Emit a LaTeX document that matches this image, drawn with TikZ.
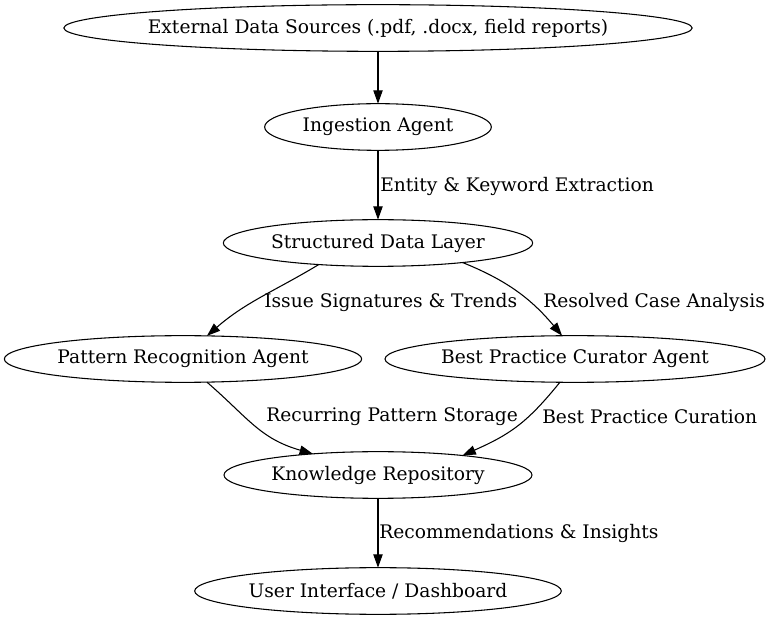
\documentclass[tikz,border=0pt]{standalone}
\usepackage{fontspec}
\setmainfont{DejaVu Serif}
\usetikzlibrary{shapes.geometric, arrows.meta}

\begin{document}
\begin{tikzpicture}[x=0.75pt, y=0.75pt]
    \tikzset{
        agent/.style={
            ellipse,
            draw=black,
            line width=0.8pt,
            inner sep=0pt,
            outer sep=0pt,
            minimum height=35pt,
            font=\fontsize{14}{17}\selectfont
        },
        flow/.style={
            line width=0.8pt,
            -{Triangle[length=10pt, width=7pt]}
        },
        tag/.style={
            anchor=west,
            inner sep=0pt,
            font=\fontsize{14}{17}\selectfont
        }
    }

    \useasboundingbox (0,0) rectangle (772,-620);

    \node[agent, inner xsep=-6pt, minimum width=471pt] (sources) at (378,-28) {External Data Sources (.pdf, .docx, field reports)};
    \node[agent, minimum width=170pt] (ingest) at (378,-127) {Ingestion Agent};
    \node[agent, minimum width=232pt] (structured) at (378,-243) {Structured Data Layer};
    \node[agent, minimum width=268pt] (pattern) at (183,-359) {Pattern Recognition Agent};
    \node[agent, minimum width=285pt] (curator) at (575,-359) {Best Practice Curator Agent};
    \node[agent, minimum width=231pt] (repo) at (378,-475) {Knowledge Repository};
    \node[agent, minimum width=275pt] (dashboard) at (378,-591) {User Interface / Dashboard};

    \draw[flow] (sources) -- (ingest);
    \draw[flow] (ingest) -- (structured);
    \draw[flow] (structured.-160.5) to[out=-149, in=41] (pattern.44);
    \draw[flow] (structured.-13) to[out=-22, in=130] (curator.119);
    \draw[flow] (pattern.-44) to[out=-41, in=164, looseness=1.1] (repo.162);
    \draw[flow] (curator.-123) to[out=-129, in=24, looseness=1.1] (repo.13);
    \draw[flow] (repo) -- (dashboard);

    \node[tag] (extractlbl) at (380,-186) {Entity \& Keyword Extraction};
    \node[tag] (issuelbl) at (264,-302) {Issue Signatures \& Trends};
    \node[tag] (resolvedlbl) at (543,-302) {Resolved Case Analysis};
    \node[tag] (recurlbl) at (266,-417) {Recurring Pattern Storage};
    \node[tag] (curationlbl) at (542,-417) {Best Practice Curation};
    \node[tag] (insightlbl) at (379,-533) {Recommendations \& Insights};

\end{tikzpicture}
\end{document}
